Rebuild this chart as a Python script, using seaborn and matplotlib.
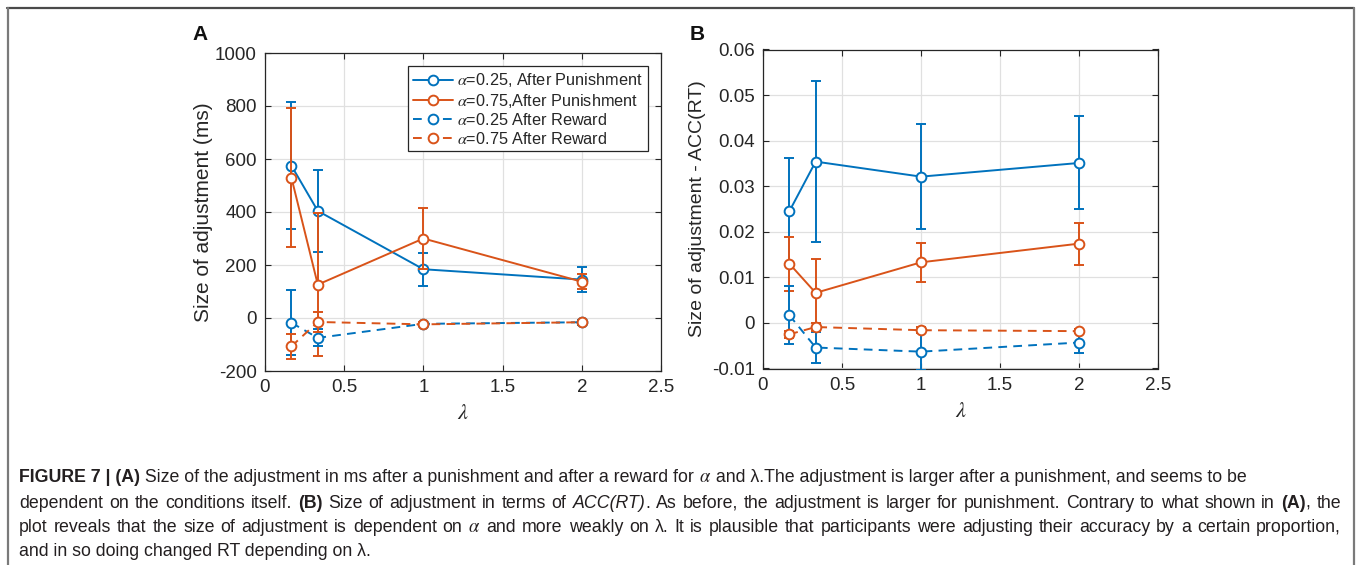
import numpy as np
import pandas as pd
import matplotlib
matplotlib.use("Agg")
import matplotlib.pyplot as plt
from matplotlib.lines import Line2D
import seaborn as sns

# ---------------- data ----------------
lam = [0.1667, 0.3333, 1.0, 2.0]

# Panel A (ms)
a25_pun = [575, 404, 184, 145]
a25_pun_err = [240, 156, 62, 46]
a75_pun = [530, 126, 300, 137]
a75_pun_err = [263, 269, 116, 28]
a25_rew = [-18, -75, -22, -16]
a25_rew_err = [122, 32, 8, 10]
a75_rew = [-107, -15, -24, -16]
a75_rew_err = [48, 38, 8, 6]

# Panel B (ACC(RT))
b25_pun = [0.0245, 0.0354, 0.0321, 0.0351]
b25_pun_err = [0.0117, 0.0177, 0.0115, 0.0102]
b75_pun = [0.0130, 0.0066, 0.0133, 0.0174]
b75_pun_err = [0.0059, 0.0075, 0.0043, 0.0046]
b25_rew = [0.0017, -0.0054, -0.0063, -0.0043]
b25_rew_err = [0.0064, 0.0033, 0.0040, 0.0024]
b75_rew = [-0.0025, -0.0009, -0.0016, -0.0018]
b75_rew_err = [0.0008, 0.0008, 0.0006, 0.0005]

legend_labels = [r"$\alpha$=0.25, After Punishment",
                 r"$\alpha$=0.75,After Punishment",
                 r"$\alpha$=0.25 After Reward",
                 r"$\alpha$=0.75 After Reward"]

xticks = [0, 0.5, 1, 1.5, 2, 2.5]
xtick_labels = ["0", "0.5", "1", "1.5", "2", "2.5"]
yticksA = [-200, 0, 200, 400, 600, 800, 1000]
ytick_labelsA = ["-200", "0", "200", "400", "600", "800", "1000"]
yticksB = [-0.01, 0, 0.01, 0.02, 0.03, 0.04, 0.05, 0.06]
ytick_labelsB = ["-0.01", "0", "0.01", "0.02", "0.03", "0.04", "0.05", "0.06"]

# ---------------- style ----------------
sns.set_theme(style="white")
plt.rcParams["font.family"] = ["Liberation Sans", "DejaVu Sans"]
plt.rcParams["mathtext.fontset"] = "stix"

BLUE = "#0072BD"
ORANGE = "#D95319"
DARK = "#262626"
DASH = (0, (4.5, 3.2))

W, H = 1358, 565
fig = plt.figure(figsize=(W / 100, H / 100), dpi=100)
fig.patch.set_facecolor("white")

axA = fig.add_axes([265 / W, 1 - 371 / H, 396 / W, 318 / H])
axB = fig.add_axes([763 / W, 1 - 368.5 / H, 395 / W, 319 / H])


def draw_panel(ax, series):
    for i, (y, e, c, ls) in enumerate(series):
        df = pd.DataFrame({"lam": lam, "val": y})
        ax.errorbar(lam, y, yerr=e, fmt="none", ecolor=c, elinewidth=1.4,
                    capsize=3.4, capthick=1.4, zorder=3 + i * 0.1)
        sns.lineplot(data=df, x="lam", y="val", ax=ax, color=c, linestyle=ls,
                     linewidth=1.4, marker="o", markersize=7,
                     markerfacecolor="white", markeredgecolor=c,
                     markeredgewidth=1.4, errorbar=None, sort=False,
                     legend=False, zorder=3.05 + i * 0.1)


draw_panel(axA, [(a25_pun, a25_pun_err, BLUE, "-"),
                 (a75_pun, a75_pun_err, ORANGE, "-"),
                 (a25_rew, a25_rew_err, BLUE, DASH),
                 (a75_rew, a75_rew_err, ORANGE, DASH)])
draw_panel(axB, [(b25_pun, b25_pun_err, BLUE, "-"),
                 (b75_pun, b75_pun_err, ORANGE, "-"),
                 (b25_rew, b25_rew_err, BLUE, DASH),
                 (b75_rew, b75_rew_err, ORANGE, DASH)])


def style_axes(ax, yticks, ylabels, ylim, ylabel, ylab_x, ylab_fs):
    ax.set_xlim(0, 2.5)
    ax.set_ylim(*ylim)
    ax.set_xticks(xticks)
    ax.set_xticklabels(xtick_labels)
    ax.set_yticks(yticks)
    ax.set_yticklabels(ylabels)
    ax.set_axisbelow(True)
    ax.grid(True, color="#e0e0e0", linewidth=0.9)
    for s in ax.spines.values():
        s.set_color(DARK)
        s.set_linewidth(0.9)
        s.set_visible(True)
    ax.tick_params(axis="both", which="major", direction="in", top=True,
                   right=True, bottom=True, left=True, length=4, width=0.8,
                   color=DARK, labelsize=13.5, labelcolor=DARK, pad=6)
    ax.set_ylabel(ylabel, fontsize=ylab_fs, color=DARK)
    lab = ax.yaxis.label
    lab.set_rotation_mode("default")
    lab.set_va("center")
    lab.set_ha("center")
    ax.yaxis.set_label_coords(ylab_x, 0.5)
    ax.set_xlabel(r"$\lambda$", fontsize=16, color=DARK)
    xl = ax.xaxis.label
    xl.set_va("center")
    ax.xaxis.set_label_coords(0.5, -0.135)


style_axes(axA, yticksA, ytick_labelsA, (-200, 1000), "Size of adjustment (ms)", -0.156, 15)
style_axes(axB, yticksB, ytick_labelsB, (-0.01, 0.06), "Size of adjustment - ACC(RT)", -0.167, 14)

# legend
handles = [
    Line2D([], [], color=BLUE, ls="-", lw=1.4, marker="o", ms=7, mfc="white", mec=BLUE, mew=1.4),
    Line2D([], [], color=ORANGE, ls="-", lw=1.4, marker="o", ms=7, mfc="white", mec=ORANGE, mew=1.4),
    Line2D([], [], color=BLUE, ls=DASH, lw=1.4, marker="o", ms=7, mfc="white", mec=BLUE, mew=1.4),
    Line2D([], [], color=ORANGE, ls=DASH, lw=1.4, marker="o", ms=7, mfc="white", mec=ORANGE, mew=1.4),
]
leg = axA.legend(handles, legend_labels, loc="upper right",
                 bbox_to_anchor=(0.967, 0.958), fontsize=11.7, frameon=True,
                 fancybox=False, framealpha=1, edgecolor=DARK, borderpad=0.3,
                 labelspacing=0.15, handlelength=2.5, handletextpad=0.25,
                 borderaxespad=0)
leg.get_frame().set_linewidth(0.9)
for t in leg.get_texts():
    t.set_color(DARK)

# panel letters
fig.text(200 / W, 1 - 35 / H, "A", fontsize=15, fontweight="bold", ha="center", va="center", color="#111111")
fig.text(697 / W, 1 - 35 / H, "B", fontsize=15, fontweight="bold", ha="center", va="center", color="#111111")

# outer frame
for (x0, y0, x1, y1, col) in [(7, 8, 1354, 8, "#4a4a4a"), (8, 8, 8, 570, "#7a7a7a"),
                              (1354, 8, 1354, 570, "#7a7a7a")]:
    fig.add_artist(Line2D([x0 / W, x1 / W], [1 - y0 / H, 1 - y1 / H], color=col, lw=1.6,
                          transform=fig.transFigure))

# ---------------- caption ----------------
cap_lines = [
    ([("FIGURE 7 | (A)", "b"),
      (" Size of the adjustment in ms after a punishment and after a reward for ", "r"),
      (r"$\alpha$", "m"),
      (" and \u03bb.The adjustment is larger after a punishment, and seems to be", "r")], False),
    ([("dependent on the conditions itself. ", "r"), ("(B)", "b"),
      (" Size of adjustment in terms of ", "r"), ("ACC(RT)", "i"),
      (". As before, the adjustment is larger for punishment. Contrary to what shown in ", "r"),
      ("(A)", "b"), (", the", "r")], True),
    ([("plot reveals that the size of adjustment is dependent on ", "r"), (r"$\alpha$", "m"),
      (" and more weakly on \u03bb. It is plausible that participants were adjusting their accuracy by a certain proportion,", "r")], True),
    ([("and in so doing changed RT depending on \u03bb.", "r")], False),
]
cap_y = [478, 503, 528, 552]
cap_x0, cap_x1 = 19, 1341
renderer = fig.canvas.get_renderer()


def props(style, fs):
    p = dict(fontsize=fs, color="#231f20")
    if style == "b":
        p["fontweight"] = "bold"
    elif style == "i":
        p["style"] = "italic"
    elif style == "m":
        p["fontsize"] = fs * 1.05
    return p


def tokenize(runs):
    toks = []
    pending = False
    for text, style in runs:
        parts = text.split(" ")
        for i, p in enumerate(parts):
            if i > 0:
                pending = True
            if p == "":
                continue
            toks.append([p, style, pending if toks else False])
            pending = False
    return toks


def measure(s, style, fs):
    t = fig.text(0, 0, s, **props(style, fs))
    w = t.get_window_extent(renderer=renderer).width
    t.remove()
    return w


def natural_width(runs, fs):
    return sum(measure(s, st, fs) for s, st in runs)


# fit the font size so that the justified lines have a natural spacing
fs0 = 10.0
nat = 0.5 * (natural_width(cap_lines[1][0], fs0) + natural_width(cap_lines[2][0], fs0))
fs = fs0 * (cap_x1 - cap_x0) * 0.985 / nat

for (runs, justify), yb in zip(cap_lines, cap_y):
    if not justify:
        x = cap_x0
        for s, st in runs:
            fig.text(x / W, 1 - yb / H, s, ha="left", va="center", **props(st, fs))
            x += measure(s, st, fs)
        continue
    toks = tokenize(runs)
    widths = [measure(t[0], t[1], fs) for t in toks]
    n_sp = sum(1 for t in toks if t[2])
    space = (cap_x1 - cap_x0 - sum(widths)) / n_sp
    x = cap_x0
    for (s, style, sp), w in zip(toks, widths):
        if sp:
            x += space
        fig.text(x / W, 1 - yb / H, s, ha="left", va="center", **props(style, fs))
        x += w

fig.savefig("out.png", dpi=100, facecolor="white")
